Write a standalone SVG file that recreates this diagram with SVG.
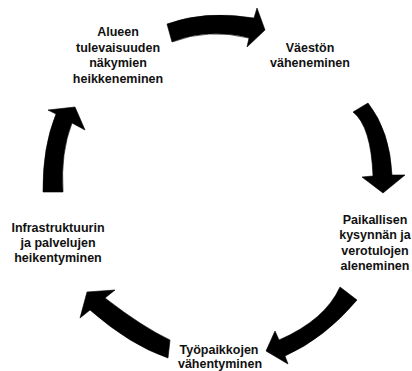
<svg xmlns="http://www.w3.org/2000/svg" width="412" height="371" viewBox="0 0 412 371">
<style>
.lbl{font-family:"Liberation Sans",Arial,sans-serif;font-weight:bold;font-size:12.5px;fill:#111;text-anchor:middle}
.arr{fill:#000;stroke:#000;stroke-width:0.6;stroke-linejoin:miter}
</style>
<rect width="412" height="371" fill="#fff"/>
<g id="connectors">
<path class="arr" d="M167,24 Q205,10 254,18 L257,8 L265,30 L247,47 L249,38 Q208,28 172,42 Z"/>
<path class="arr" d="M353,112 Q371,126 373,176 L362,177 L383,193 L405,175 L392,175 Q390,131 368,103 Z"/>
<path class="arr" d="M340,287 Q325,320 279,340 L275,331 L266,351 L288,364 L285,356 Q325,338 357,300 Z"/>
<path class="arr" d="M170,340 Q142.5,327 105,298 L115,290 L87,292 L80,318 L90,310 Q130,345 168,358 Z"/>
<path class="arr" d="M43,192 Q42.5,147 56,114 L48,110 L75,107 L85,130 L72,123 Q60.5,152.5 63,192 Z"/>
</g>
<g id="n1"><text class="lbl" x="118" y="36">Alueen</text><text class="lbl" x="118" y="51.5">tulevaisuuden</text><text class="lbl" x="118" y="67">näkymien</text><text class="lbl" x="118" y="82.5">heikkeneminen</text></g>
<g id="n2"><text class="lbl" x="310" y="52">Väestön</text><text class="lbl" x="310" y="67">väheneminen</text></g>
<g id="n3"><text class="lbl" x="375" y="224">Paikallisen</text><text class="lbl" x="375" y="239">kysynnän ja</text><text class="lbl" x="375" y="254.5">verotulojen</text><text class="lbl" x="375" y="269.5">aleneminen</text></g>
<g id="n4"><text class="lbl" x="219" y="354">Työpaikkojen</text><text class="lbl" x="220" y="368">vähentyminen</text></g>
<g id="n5"><text class="lbl" x="58" y="232">Infrastruktuurin</text><text class="lbl" x="58" y="247">ja palvelujen</text><text class="lbl" x="58" y="262">heikentyminen</text></g>
</svg>
